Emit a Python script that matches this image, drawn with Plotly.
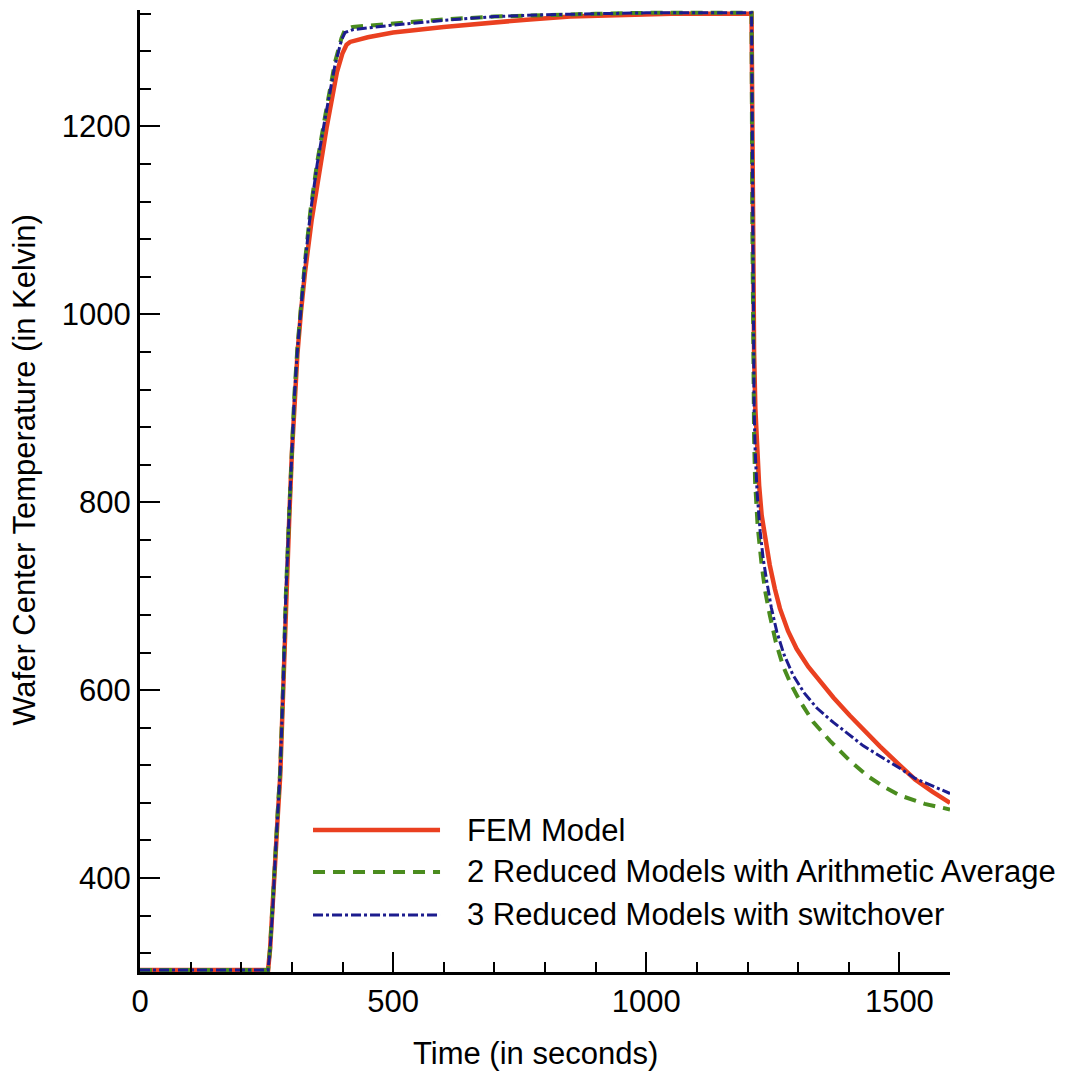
import plotly.graph_objects as go

# ---- data ----
fem_t = [0, 253, 257, 262, 267, 272, 277, 283, 288, 295, 300, 305, 311, 318, 326, 339, 352, 369, 389, 400, 408, 415,
         450, 500, 600, 700, 770, 850, 950, 1050, 1208,
         1209.5, 1211, 1213, 1215.5, 1219, 1223, 1228, 1236, 1244, 1254, 1264, 1280, 1297, 1320, 1343, 1370,
         1402, 1430, 1462, 1501, 1531, 1565, 1600]
fem_T = [302, 302, 325, 365, 417, 465, 509, 602, 693, 786, 852, 908, 958, 1003, 1045, 1100, 1146, 1200, 1258, 1278, 1287, 1290,
         1295, 1300, 1306, 1311, 1314, 1317, 1319, 1320, 1320,
         1200, 1080, 960, 900, 857, 818, 786, 756, 733, 708, 687, 663, 644, 625, 609, 592,
         573, 557, 540, 520, 505, 492, 480]

avg_t = [0, 253, 257, 262, 267, 272, 277, 283, 288, 295, 300, 305, 311, 318, 326, 337, 350, 366, 385, 398, 405, 420,
         500, 600, 700, 800, 900, 1000, 1208,
         1209.5, 1211, 1213, 1215, 1220, 1228, 1235, 1244, 1256, 1270, 1286, 1304, 1330, 1363, 1400, 1436, 1470,
         1501, 1550, 1600]
avg_T = [302, 302, 325, 365, 420, 470, 515, 608, 700, 792, 859, 915, 965, 1012, 1057, 1112, 1162, 1212, 1268, 1294, 1303, 1306,
         1310, 1314, 1317, 1319, 1320, 1321, 1321,
         1100, 960, 870, 822, 775, 733, 705, 680, 651, 626, 606, 588, 566, 546, 526, 509, 497,
         488, 479, 473]

sw_t = [0, 253, 257, 262, 267, 272, 277, 283, 288, 295, 300, 305, 311, 318, 326, 337, 350, 366, 385, 398, 405, 420,
        500, 600, 700, 800, 900, 1000, 1208,
        1209.5, 1211, 1213, 1215, 1219, 1225, 1231, 1238, 1247, 1258, 1272, 1290, 1312, 1337, 1369, 1400, 1428,
        1470, 1501, 1531, 1565, 1600]
sw_T = [302, 302, 325, 365, 420, 470, 515, 608, 700, 792, 857, 913, 963, 1010, 1055, 1110, 1160, 1210, 1265, 1292, 1300, 1303,
        1308, 1313, 1317, 1319, 1320, 1321, 1321,
        1150, 1000, 900, 857, 810, 769, 740, 716, 688, 662, 638, 616, 597, 581, 566, 553, 541,
        527, 517, 506, 498, 490]

series_names = ["FEM Model",
                "2 Reduced Models with Arithmetic Average",
                "3 Reduced Models with switchover"]

x_title = "Time (in seconds)"
y_title = "Wafer Center Temperature (in Kelvin)"

RED = "#ea4020"
GREEN = "#4a8c1e"
BLUE = "#1c1c8e"
FONT = "Liberation Sans, Arial, sans-serif"

fig = go.Figure()
fig.add_trace(go.Scatter(x=fem_t, y=fem_T, mode="lines", name=series_names[0],
                         line=dict(color=RED, width=4.5), showlegend=False))
fig.add_trace(go.Scatter(x=avg_t, y=avg_T, mode="lines", name=series_names[1],
                         line=dict(color=GREEN, width=4, dash="12px,8px"), showlegend=False))
fig.add_trace(go.Scatter(x=sw_t, y=sw_T, mode="lines", name=series_names[2],
                         line=dict(color=BLUE, width=3, dash="10px,3px,3px,3px"), showlegend=False))

axis_common = dict(showgrid=False, zeroline=False, showline=True, linecolor="black", linewidth=3,
                   ticks="inside", ticklen=20, tickwidth=2, tickcolor="black",
                   tickfont=dict(family=FONT, size=31, color="black"))

fig.update_xaxes(range=[0, 1600], tick0=0, dtick=500,
                 minor=dict(dtick=100, ticks="inside", ticklen=10, tickwidth=2, tickcolor="black"),
                 **axis_common)
fig.update_yaxes(range=[300, 1324], tick0=0, dtick=200,
                 minor=dict(dtick=40, ticks="inside", ticklen=11, tickwidth=2, tickcolor="black"),
                 **axis_common)

# manual legend (long line samples as in the reference)
legend_rows = [0.1476, 0.1040, 0.0593]
legend_styles = [dict(color=RED, width=4.5),
                 dict(color=GREEN, width=4, dash="12px,8px"),
                 dict(color=BLUE, width=3, dash="10px,3px,3px,3px")]
shapes = []
annotations = []
for name, yp, st in zip(series_names, legend_rows, legend_styles):
    shapes.append(dict(type="line", xref="paper", yref="paper", x0=0.2136, x1=0.3704, y0=yp, y1=yp,
                       line=st))
    annotations.append(dict(xref="paper", yref="paper", x=0.4015, y=yp, xanchor="left", yanchor="middle",
                            text=name, showarrow=False, font=dict(family=FONT, size=31, color="black")))

annotations.append(dict(xref="paper", yref="paper", x=0.488, y=-0.085, xanchor="center", yanchor="middle",
                        text=x_title, showarrow=False, font=dict(family=FONT, size=31, color="black")))
annotations.append(dict(xref="paper", yref="paper", x=-0.142, y=0.522, xanchor="center", yanchor="middle",
                        text=y_title, textangle=-90, showarrow=False,
                        font=dict(family=FONT, size=31, color="black")))

fig.update_layout(width=1077, height=1080, margin=dict(l=140, r=127, t=10, b=108),
                  paper_bgcolor="white", plot_bgcolor="white",
                  shapes=shapes, annotations=annotations, showlegend=False,
                  font=dict(family=FONT, color="black"))

fig.write_html("out.html")
